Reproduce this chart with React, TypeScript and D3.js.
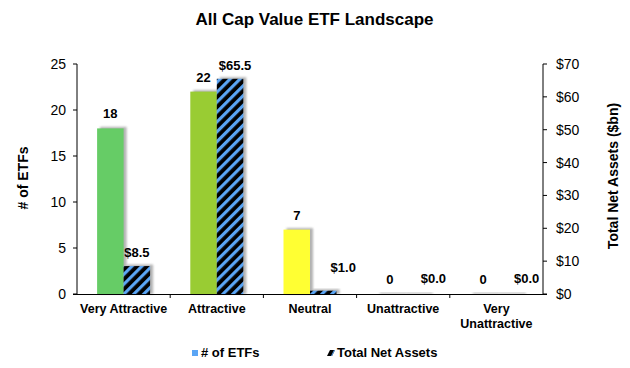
import React from "react";
import * as d3 from "d3";

const categories = ["Very Attractive", "Attractive", "Neutral", "Unattractive", "Very Unattractive"];
const etfCounts = [18, 22, 7, 0, 0];
const netAssets = [8.5, 65.5, 1.0, 0.0, 0.0];
const countColors = ["#66cc66", "#99cc33", "#ffff33", "#cccccc", "#cccccc"];
const leftTicks = [0, 5, 10, 15, 20, 25];
const rightTicks = [0, 10, 20, 30, 40, 50, 60, 70];
// label nudges (px) for the small asset labels, as Excel placed them
const assetLabelDx = [0, 5, 20, 17, 17];
const assetLabelDy = [0, 0, -10, -2, -2];

const W = 630, H = 368;
const M = { left: 77, right: 543, top: 64, bottom: 294 };
const FONT = "Liberation Sans, Arial, sans-serif";

export default function App() {
  const x = d3.scaleBand<string>().domain(categories).range([M.left, M.right]).paddingInner(0).paddingOuter(0);
  const yL = d3.scaleLinear().domain([0, 25]).range([M.bottom, M.top]);
  const yR = d3.scaleLinear().domain([0, 70]).range([M.bottom, M.top]);
  const bw = x.bandwidth();
  const barW = 26.5;
  const off = (bw - 2 * barW) / 2;

  return (
    <svg width={W} height={H} style={{ position: "absolute", left: 0, top: 0 }} fontFamily={FONT}>
      <defs>
        <pattern id="hatch" patternUnits="userSpaceOnUse" width="7" height="7" patternTransform="rotate(45)">
          <rect width="7" height="7" fill="#000" />
          <rect width="3.2" height="7" fill="#5aa5f5" />
        </pattern>
        <filter id="sh" x="-20%" y="-20%" width="140%" height="140%">
          <feGaussianBlur stdDeviation="0.8" />
        </filter>
      </defs>
      <rect width={W} height={H} fill="#fff" />
      <text x={314.5} y={25} textAnchor="middle" fontWeight="bold" fontSize={17}>All Cap Value ETF Landscape</text>

      {/* bars */}
      {categories.map((c, i) => {
        const x0 = (x(c) as number) + off;
        const t1 = yL(etfCounts[i]);
        const t2 = yR(netAssets[i]);
        const h1 = M.bottom - t1;
        const h2 = M.bottom - t2;
        return (
          <g key={c}>
            <rect x={x0 + 3} y={t1 - 1.5} width={barW} height={h1 + 1.5} fill="#999" opacity={0.75} filter="url(#sh)" />
            <rect x={x0 + barW + 3} y={t2 - 1.5} width={barW} height={h2 + 1.5} fill="#999" opacity={0.75} filter="url(#sh)" />
            {h1 > 0 && <rect x={x0} y={t1} width={barW} height={h1} fill={countColors[i]} />}
            {h2 > 0 && <rect x={x0 + barW} y={t2} width={barW} height={h2} fill="url(#hatch)" />}
            <text x={x0 + barW / 2} y={t1 - 10} textAnchor="middle" fontWeight="bold" fontSize={13}>{etfCounts[i]}</text>
            <text x={x0 + barW * 1.5 + assetLabelDx[i]} y={t2 - 9 + assetLabelDy[i]} textAnchor="middle" fontWeight="bold" fontSize={13}>
              {"$" + netAssets[i].toFixed(1)}
            </text>
          </g>
        );
      })}

      {/* axes */}
      <line x1={M.left} x2={M.left} y1={M.top} y2={M.bottom} stroke="#000" />
      <line x1={M.right} x2={M.right} y1={M.top} y2={M.bottom} stroke="#000" />
      <line x1={M.left - 4} x2={M.right + 4} y1={M.bottom + 0.5} y2={M.bottom + 0.5} stroke="#000" />
      {leftTicks.map((t) => (
        <g key={"l" + t}>
          <line x1={M.left - 4} x2={M.left} y1={yL(t)} y2={yL(t)} stroke="#000" />
          <text x={66} y={yL(t) + 5} textAnchor="end" fontSize={14}>{t}</text>
        </g>
      ))}
      {rightTicks.map((t) => (
        <g key={"r" + t}>
          <line x1={M.right} x2={M.right + 4} y1={yR(t)} y2={yR(t)} stroke="#000" />
          <text x={556} y={yR(t) + 5} textAnchor="start" fontSize={14}>{"$" + t}</text>
        </g>
      ))}
      {categories.slice(1).map((c) => (
        <line key={"t" + c} x1={x(c)} x2={x(c)} y1={M.bottom} y2={M.bottom + 4} stroke="#000" />
      ))}
      {categories.map((c) => {
        const cx = (x(c) as number) + bw / 2;
        const parts = c === "Very Unattractive" ? ["Very", "Unattractive"] : [c];
        return (
          <text key={"c" + c} x={cx} y={313} textAnchor="middle" fontWeight="bold" fontSize={12.5}>
            {parts.map((p, j) => (
              <tspan key={p} x={cx} dy={j === 0 ? 0 : 15}>{p}</tspan>
            ))}
          </text>
        );
      })}

      <text transform="translate(28,178) rotate(-90)" textAnchor="middle" fontWeight="bold" fontSize={14}># of ETFs</text>
      <text transform="translate(618,176) rotate(-90)" textAnchor="middle" fontWeight="bold" fontSize={14}>Total Net Assets ($bn)</text>

      {/* legend */}
      <rect x={192} y={350} width={6} height={6} fill="#5aa5f5" />
      <text x={201} y={357} fontWeight="bold" fontSize={13}># of ETFs</text>
      <path d="M327,356 L330,350 L335,350 L332,356 Z" fill="#000" />
      <path d="M331,356 L334,350 L335,350 L332,356 Z" fill="#5aa5f5" />
      <text x={337} y={357} fontWeight="bold" fontSize={13}>Total Net Assets</text>
    </svg>
  );
}
